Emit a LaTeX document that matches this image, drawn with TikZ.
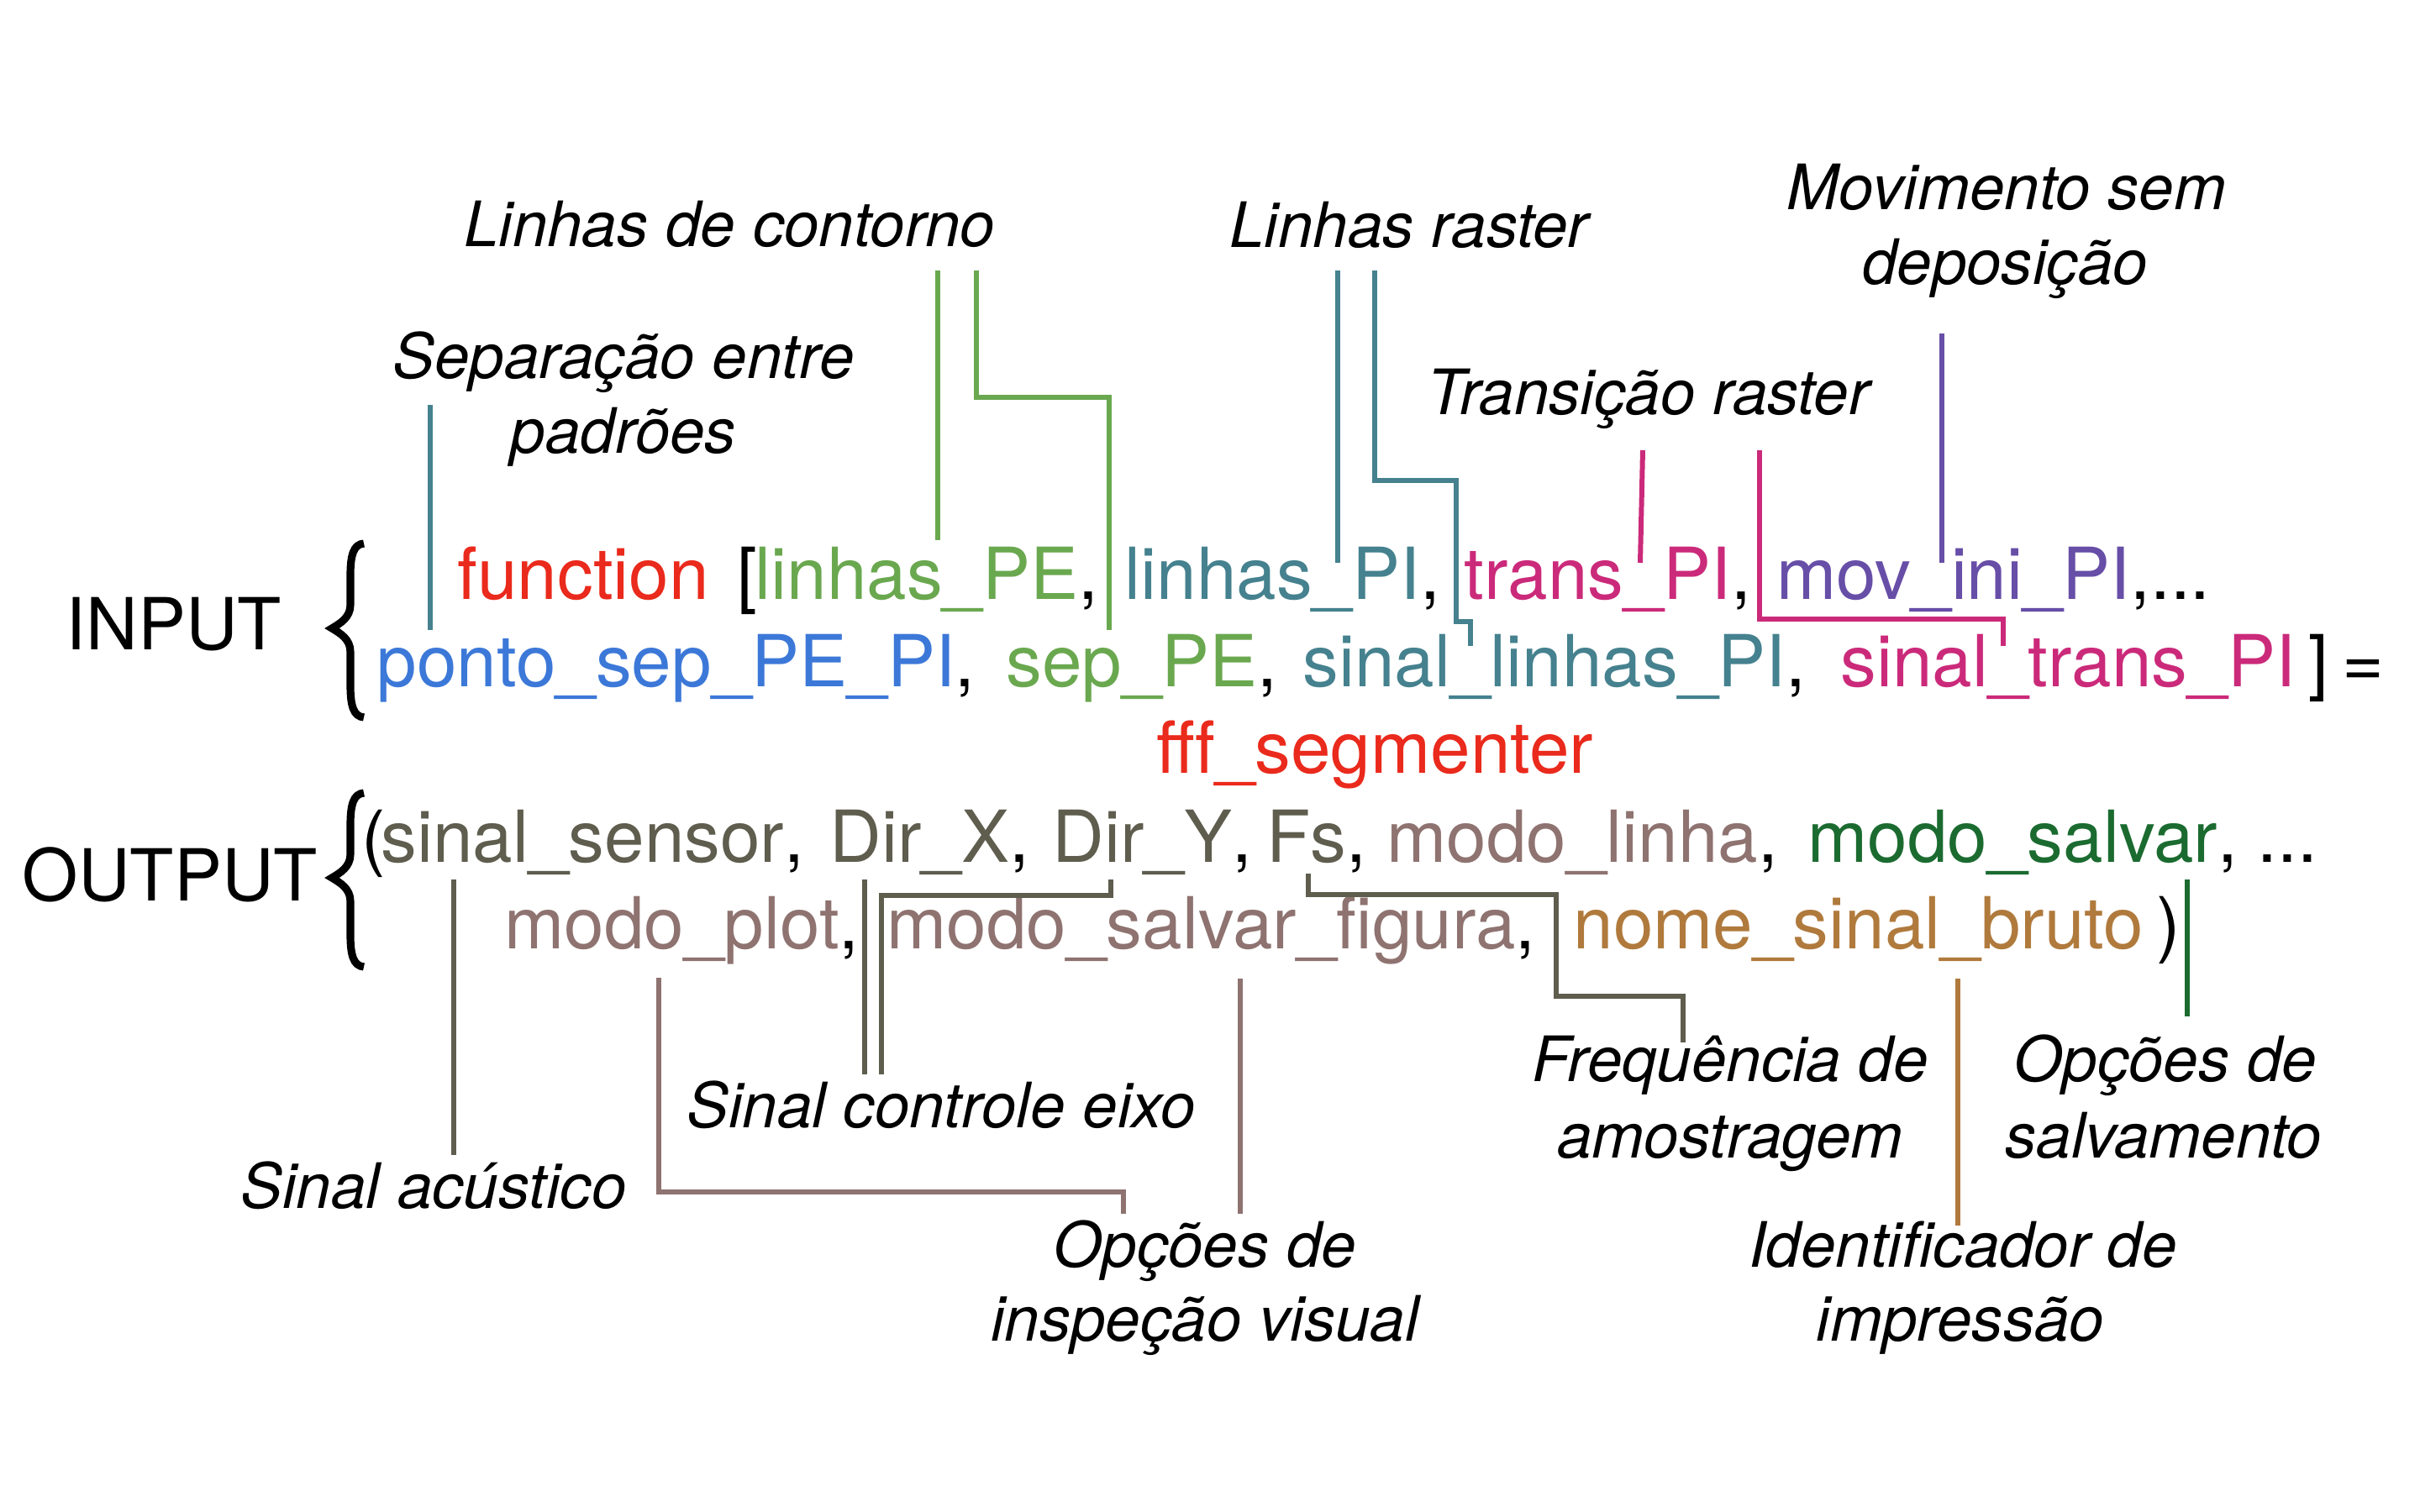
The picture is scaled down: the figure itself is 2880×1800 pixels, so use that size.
\documentclass[tikz,border=0pt]{standalone}
\usepackage{fontspec}
\setmainfont{TeX Gyre Heros}
\definecolor{cred}{HTML}{EA2A1C}
\definecolor{cgreen}{HTML}{6AA84F}
\definecolor{cteal}{HTML}{45818E}
\definecolor{cblue}{HTML}{3C78D8}
\definecolor{cmag}{HTML}{CB2A7A}
\definecolor{cpurple}{HTML}{674EA7}
\definecolor{colive}{HTML}{5E5D4E}
\definecolor{cmauve}{HTML}{8E7370}
\definecolor{cdkgreen}{HTML}{1B6B30}
\definecolor{cbrown}{HTML}{B07A3D}
\begin{document}
\begin{tikzpicture}[x=0.01cm,y=-0.01cm,
  code/.style={anchor=base west, inner sep=0pt, font=\fontsize{24.3}{29}\selectfont},
  lab/.style={anchor=base, inner sep=0pt, font=\fontsize{21.2}{25}\selectfont\itshape},
  lead/.style={line width=1.7pt, line cap=butt, line join=miter},
  bracepath/.style={line width=2.6pt, line cap=butt, line join=miter, miter limit=20}]
\useasboundingbox (0,0) rectangle (2880,1800);

% INPUT / OUTPUT
\node[code] (input) at (78,773) {INPUT};
\node[code] (output) at (26,1072) {OUTPUT};
\coordinate (ib1) at (433,647); \coordinate (ib2) at (433,854);
\draw[bracepath] (ib1) .. controls (421,648) and (417,660) .. (417,685) -- (417,720) .. controls (417,735) and (405,742) .. (395,748) .. controls (405,754) and (417,761) .. (417,776) -- (417,816) .. controls (417,841) and (421,853) .. (ib2);
\coordinate (ob1) at (433,944); \coordinate (ob2) at (433,1151);
\draw[bracepath] (ob1) .. controls (421,945) and (417,957) .. (417,982) -- (417,1017) .. controls (417,1032) and (405,1039) .. (395,1045) .. controls (405,1051) and (417,1058) .. (417,1073) -- (417,1113) .. controls (417,1138) and (421,1150) .. (ob2);

% input row 1
\node[code,text=cred] (fn) at (544,713) {function};
\node[code] (lb) at (877,713) {[};
\node[code] (lPE) at (898,713) {\textcolor{cgreen}{linhas\_PE},};
\node[code] (lPI) at (1338,713) {\textcolor{cteal}{linhas\_PI},};
\node[code] (tPI) at (1742,713) {\textcolor{cmag}{trans\_PI},};
\node[code] (mPI) at (2114,713) {\textcolor{cpurple}{mov\_ini\_PI},...};
% input row 2
\node[code] (pse) at (448,817) {\textcolor{cblue}{ponto\_sep\_PE\_PI},};
\node[code] (sPE) at (1197,817) {\textcolor{cgreen}{sep\_PE},};
\node[code] (slPI) at (1550,817) {\textcolor{cteal}{sinal\_linhas\_PI},};
\node[code] (stPI) at (2190,817) {\textcolor{cmag}{sinal\_trans\_PI}};
\node[code] (rb) at ([xshift=4]stPI.base east) {]};
\node[code] (eq) at (2787,817) {=};
\node[code,text=cred] (fff) at (1376,920) {fff\_segmenter};

% output row 1
\node[code] (lp) at (430,1026) {(};
\node[code] (ss) at (453,1026) {\textcolor{colive}{sinal\_sensor},};
\node[code] (dx) at (987,1026) {\textcolor{colive}{Dir\_X},};
\node[code] (dy) at (1252,1026) {\textcolor{colive}{Dir\_Y},};
\node[code] (fs) at (1507,1026) {\textcolor{colive}{Fs},};
\node[code] (ml) at (1650,1026) {\textcolor{cmauve}{modo\_linha},};
\node[code] (ms) at (2151,1026) {\textcolor{cdkgreen}{modo\_salvar}, ...};
% output row 2
\node[code] (mp) at (600,1129) {\textcolor{cmauve}{modo\_plot},};
\node[code] (msf) at (1055,1129) {\textcolor{cmauve}{modo\_salvar\_figura},};
\node[code] (nsb) at (1872,1129) {\textcolor{cbrown}{nome\_sinal\_bruto}};
\node[code] (rp) at ([xshift=4]nsb.base east) {)};

% labels
\node[lab] (lcont) at (868,294) {Linhas de contorno};
\node[lab] (lsep1) at (742,450) {Separação entre};
\node[lab] (lsep2) at (742,539) {padrões};
\node[lab] (lrast) at (1677,295) {Linhas raster};
\node[lab] (lmov1) at (2388,250) {Movimento sem};
\node[lab] (lmov2) at (2386,339) {deposição};
\node[lab] (ltrans) at (1962,493) {Transição raster};
\node[lab] (lac) at (516,1438) {Sinal acústico};
\node[lab] (lcei) at (1120,1342) {Sinal controle eixo};
\node[lab] (lins1) at (1434,1508) {Opções de};
\node[lab] (lins2) at (1434,1596) {inspeção visual};
\node[lab] (lfreq1) at (2059,1287) {Frequência de};
\node[lab] (lfreq2) at (2059,1378) {amostragem};
\node[lab] (lsalv1) at (2577,1287) {Opções de};
\node[lab] (lsalv2) at (2575,1378) {salvamento};
\node[lab] (lid1) at (2336,1508) {Identificador de};
\node[lab] (lid2) at (2333,1596) {impressão};

% leader coordinates
\coordinate (a1) at (512,482);  \coordinate (a2) at (512,750);
\coordinate (g1) at (1116,322); \coordinate (g2) at (1116,643);
\coordinate (g3) at (1162,322); \coordinate (g4) at (1320,750);
\coordinate (t1) at (1592,322); \coordinate (t2) at (1592,670);
\coordinate (t3) at (1636,322); \coordinate (t4) at (1750,769);
\coordinate (m1) at (1955,536); \coordinate (m2) at (1952,670);
\coordinate (m3) at (2094,536); \coordinate (m4) at (2384,769);
\coordinate (p1) at (2311,397); \coordinate (p2) at (2311,670);
\coordinate (o1) at (540,1047); \coordinate (o2) at (540,1375);
\coordinate (x1) at (1029,1047); \coordinate (x2) at (1029,1279);
\coordinate (y1) at (1322,1047); \coordinate (y2) at (1049,1279);
\coordinate (f1) at (1557,1040); \coordinate (f2) at (2003,1241);
\coordinate (v1) at (784,1164); \coordinate (v2) at (1337,1445);
\coordinate (v3) at (1476,1165); \coordinate (v4) at (1476,1445);
\coordinate (b1) at (2330,1165); \coordinate (b2) at (2330,1459);
\coordinate (s1) at (2603,1047); \coordinate (s2) at (2603,1210);

% input leaders
\draw[lead,cteal] (a1) -- (a2);
\draw[lead,cgreen] (g1) -- (g2);
\draw[lead,cgreen] (g3) |- (1320,473) -- (g4);
\draw[lead,cteal] (t1) -- (t2);
\draw[lead,cteal] (t3) |- (1733,572) |- (1750,740) -- (t4);
\draw[lead,cmag] (m1) -- (m2);
\draw[lead,cmag] (m3) |- (2384,737) -- (m4);
\draw[lead,cpurple] (p1) -- (p2);
% output leaders
\draw[lead,colive] (o1) -- (o2);
\draw[lead,colive] (x1) -- (x2);
\draw[lead,colive] (y1) |- (1049,1066) -- (y2);
\draw[lead,colive] (f1) |- (1852,1065) |- (2003,1186) -- (f2);
\draw[lead,cmauve] (v1) |- (1337,1419) -- (v2);
\draw[lead,cmauve] (v3) -- (v4);
\draw[lead,cbrown] (b1) -- (b2);
\draw[lead,cdkgreen] (s1) -- (s2);
\end{tikzpicture}
\end{document}
